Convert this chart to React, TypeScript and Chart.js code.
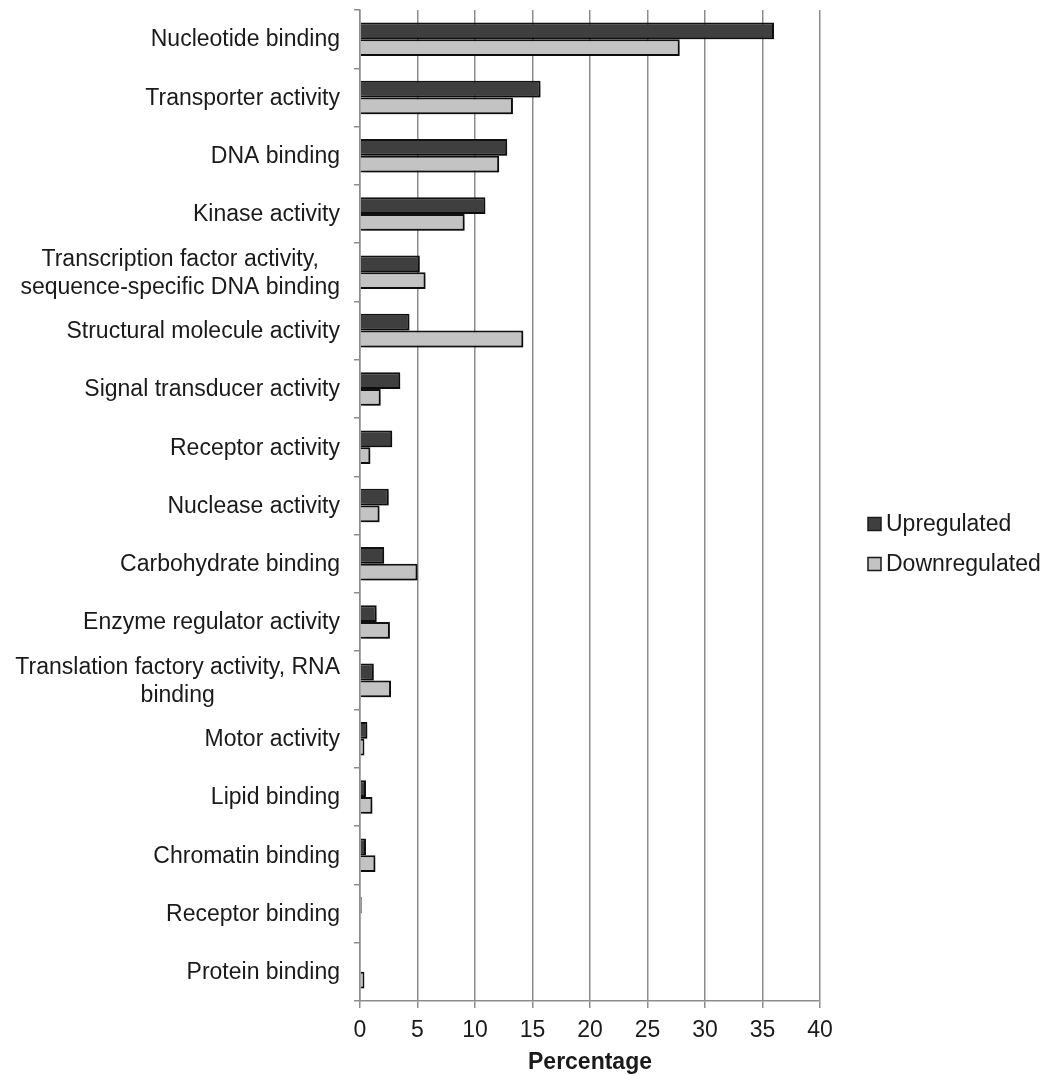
import React, { useEffect, useRef } from "react";
import { Chart, registerables } from "chart.js";

Chart.register(...registerables);

const categories: (string | string[])[] = [
  "Nucleotide binding",
  "Transporter activity",
  "DNA binding",
  "Kinase activity",
  ["Transcription factor activity,", "sequence-specific DNA binding"],
  "Structural molecule activity",
  "Signal transducer activity",
  "Receptor activity",
  "Nuclease activity",
  "Carbohydrate binding",
  "Enzyme regulator activity",
  ["Translation factory activity, RNA", "binding"],
  "Motor activity",
  "Lipid binding",
  "Chromatin binding",
  "Receptor binding",
  "Protein binding",
];

const upregulated = [36.0, 15.7, 12.8, 10.9, 5.2, 4.3, 3.5, 2.8, 2.5, 2.1, 1.45, 1.2, 0.64, 0.52, 0.52, 0.15, 0];
const downregulated = [27.8, 13.3, 12.1, 9.1, 5.7, 14.2, 1.8, 0.9, 1.7, 5.0, 2.6, 2.7, 0.38, 1.08, 1.34, 0, 0.38];

const xTicks = [0, 5, 10, 15, 20, 25, 30, 35, 40];
const seriesNames = ["Upregulated", "Downregulated"];
const seriesColors = ["#3f3f3f", "#c3c3c3"];

const FONT = "'Liberation Sans', Arial, Helvetica, sans-serif";
const TEXT = "#1a1a1a";
const GRID = "#8c8c8c";

export default function App() {
  const ref = useRef<HTMLCanvasElement | null>(null);

  useEffect(() => {
    if (!ref.current) return;

    const shadowPlugin = {
      id: "barShadow",
      beforeDatasetsDraw(chart: any) {
        const ctx = chart.ctx;
        ctx.save();
        ctx.shadowColor = "rgba(0,0,0,0.4)";
        ctx.shadowBlur = 5;
        ctx.shadowOffsetX = 2.5;
        ctx.shadowOffsetY = 2.5;
      },
      afterDatasetsDraw(chart: any) {
        chart.ctx.restore();
      },
    };

    const labelPlugin = {
      id: "customLabels",
      afterDraw(chart: any) {
        const ctx = chart.ctx;
        const yScale = chart.scales.y;
        ctx.save();
        ctx.font = `23px ${FONT}`;
        ctx.fillStyle = TEXT;
        ctx.textAlign = "center";
        ctx.textBaseline = "middle";
        const rightEdge = yScale.right - 20;
        const lh = 28;
        categories.forEach((lab, i) => {
          const lines = Array.isArray(lab) ? lab : [lab];
          const maxW = Math.max(...lines.map((l) => ctx.measureText(l).width));
          const cx = rightEdge - maxW / 2;
          const cy = yScale.getPixelForValue(i);
          const startY = cy - ((lines.length - 1) * lh) / 2;
          lines.forEach((l, k) => ctx.fillText(l, cx, startY + k * lh + 1));
        });

        // legend
        const lx = 868;
        const ly = [524, 564];
        chart.data.datasets.forEach((ds: any, i: number) => {
          ctx.fillStyle = ds.backgroundColor;
          ctx.strokeStyle = "#1a1a1a";
          ctx.lineWidth = 1.5;
          ctx.fillRect(lx, ly[i] - 6.5, 13, 13);
          ctx.strokeRect(lx, ly[i] - 6.5, 13, 13);
          ctx.fillStyle = TEXT;
          ctx.textAlign = "left";
          ctx.fillText(ds.label, lx + 18, ly[i] + 1);
        });
        ctx.restore();
      },
    };

    const chart = new Chart(ref.current, {
      type: "bar",
      data: {
        labels: categories.map((c) => (Array.isArray(c) ? c.join(" ") : c)),
        datasets: seriesNames.map((name, i) => ({
          label: name,
          data: i === 0 ? upregulated : downregulated,
          backgroundColor: seriesColors[i],
          borderColor: "#121212",
          borderWidth: 2,
          categoryPercentage: 0.575,
          barPercentage: 1,
        })),
      },
      options: {
        indexAxis: "y",
        animation: false,
        responsive: false,
        layout: { padding: { left: 0, top: 10, right: 224, bottom: 0 } },
        plugins: {
          legend: { display: false },
          tooltip: { enabled: false },
        },
        scales: {
          x: {
            min: 0,
            max: 40,
            afterBuildTicks(scale: any) {
              scale.ticks = xTicks.map((v) => ({ value: v }));
            },
            afterFit(scale: any) {
              scale.height = 75;
            },
            grid: {
              color: GRID,
              lineWidth: 1.5,
              tickLength: 7,
              tickColor: GRID,
            },
            border: { color: GRID, width: 1.5 },
            ticks: {
              color: TEXT,
              font: { family: FONT, size: 23 },
              padding: 9,
            },
            title: {
              display: true,
              text: "Percentage",
              color: TEXT,
              font: { family: FONT, size: 23, weight: "bold" },
              padding: { top: 0, bottom: 0 },
            },
          },
          y: {
            afterFit(scale: any) {
              scale.width = 360;
            },
            grid: {
              drawOnChartArea: false,
              tickLength: 6,
              color: GRID,
              lineWidth: 1.5,
              offset: true,
            },
            border: { color: GRID, width: 1.5 },
            ticks: { display: false },
          },
        },
      },
      plugins: [shadowPlugin, labelPlugin],
    } as any);

    return () => chart.destroy();
  }, []);

  return (
    <div style={{ position: "absolute", left: 0, top: 0, width: 1044, height: 1076, background: "#fff" }}>
      <canvas ref={ref} width={1044} height={1076} />
    </div>
  );
}
